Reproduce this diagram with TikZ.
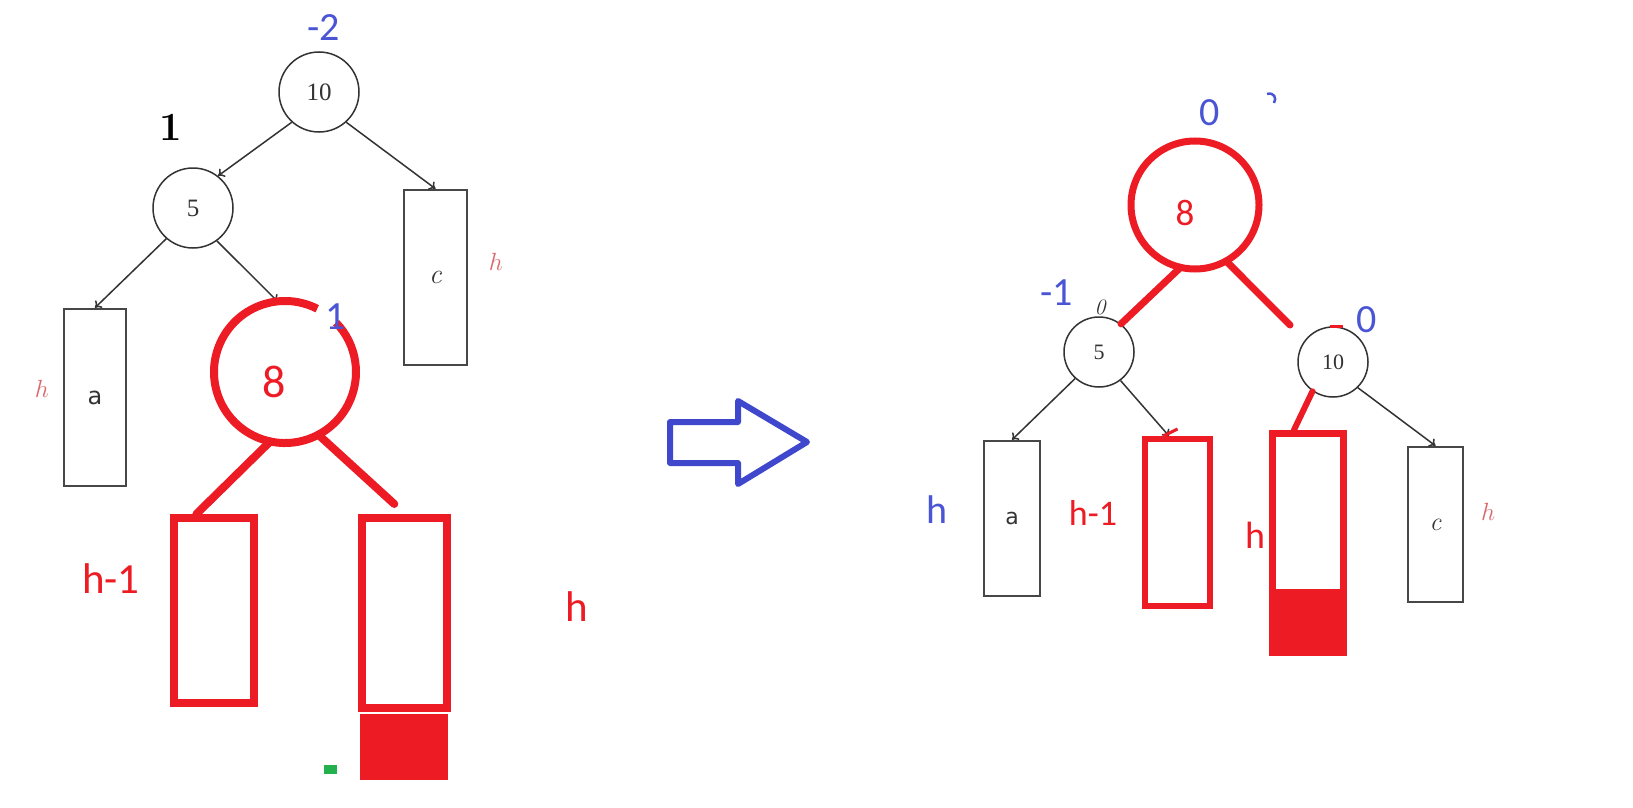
\documentclass[tikz,border=0pt]{standalone}
\usepackage{fontspec}
\newfontfamily\carlitofont{Carlito}
\newfontfamily\timesfont{Liberation Serif}
\newfontfamily\dvsansfont{DejaVu Sans}
\usetikzlibrary{arrows.meta,calc}
\definecolor{pred}{HTML}{ED1C24}
\definecolor{pblue}{HTML}{3F48CC}
\definecolor{tblue}{HTML}{4A55D6}
\definecolor{pgreen}{HTML}{22B14C}
\definecolor{hpink}{HTML}{D9686A}
\definecolor{dk}{HTML}{333333}
\begin{document}
\begin{tikzpicture}[x=1pt,y=-1pt,
 circ/.style={circle, draw=dk, line width=1.5pt, inner sep=0pt, minimum size=80pt, text=dk, font=\timesfont\fontsize{25}{25}\selectfont},
 circsm/.style={circ, minimum size=70pt, font=\timesfont\fontsize{22}{22}\selectfont},
 box/.style={rectangle, draw=dk!90, line width=2.5pt, inner sep=0pt, text=dk},
 redbox/.style={rectangle, draw=pred, inner sep=0pt},
 redfill/.style={rectangle, fill=pred, inner sep=0pt},
 edge/.style={draw=dk, line width=1.5pt, -{To[length=6pt,width=10pt]}},
 redline/.style={draw=pred, line width=8pt, line cap=round},
 bal/.style={text=tblue, inner sep=0pt, font=\carlitofont\fontsize{40}{40}\selectfont},
 redlbl/.style={text=pred, inner sep=0pt, font=\carlitofont\fontsize{43}{43}\selectfont},
 hlbl/.style={text=hpink, inner sep=0pt, font=\fontsize{27}{27}\selectfont},
]
\useasboundingbox (0,0) rectangle (1633,808);
\fill[white] (0,0) rectangle (1633,808);

% ---------- left tree ----------
\node[circ] (L10) at (319,92) {10};
\node[circ] (L5) at (193,208) {5};
\node[box, minimum width=62pt, minimum height=177pt, font=\dvsansfont\fontsize{24}{24}\selectfont] (La) at (95,397.5) {a};
\node[box, minimum width=63pt, minimum height=175pt, font=\itshape\fontsize{28}{28}\selectfont] (Lc) at (435.5,277.5) {c};
\node[circle, minimum size=142pt, inner sep=0pt, outer sep=0pt] (L8) at (285,372) {};

\draw[edge] (L10.228) -- (L5.52);
\draw[edge] (L10.312) -- (Lc.north);
\draw[edge] (L5.229) -- (La.north);
\draw[edge] (L5.306) -- (L8.96);

\draw[pred, line width=8pt] (L8.63) arc[start angle=63, end angle=404, radius=71pt];
\node[text=pred, inner sep=0pt, font=\carlitofont\fontsize{46}{46}\selectfont] (L8t) at (274,382) {8};

\node[redbox, line width=8pt, minimum width=80pt, minimum height=185pt] (Lrl) at (214,610.5) {};
\node[redbox, line width=8pt, minimum width=85pt, minimum height=190pt] (Lrr) at (404.5,613) {};
\node[redfill, minimum width=88pt, minimum height=66pt] (Lfill) at (404,747) {};
\draw[redline] (L8.258) -- ($(Lrl.north west)!0.3!(Lrl.north east)$);
\draw[redline] (L8.298) -- ($(Lrr.north west)!0.39!(Lrr.north east)+(0,-10)$);
\fill[pgreen] (324,765) rectangle (337,774);

\node[bal] (Lb10) at (324,28) {-2};
\node[text=black, inner sep=0pt, font=\bfseries\fontsize{40}{40}\selectfont] (Lb5) at (171,127) {1};
\node[bal] (Lb8) at (336,317) {1};
\node[hlbl] (Lha) at (42,389) {$h$};
\node[hlbl] (Lhc) at (496,262) {$h$};
\node[redlbl] (Lh1) at (111,579) {h-1};
\node[redlbl] (Lh) at (577,607) {h};

% ---------- transform arrow ----------
\draw[pblue, line width=6pt, line join=round] (670,422) -- (738,422) -- (738,401) -- (807,442) -- (738,484) -- (738,463) -- (670,463) -- cycle;

% ---------- right tree ----------
\node[circle, draw=pred, line width=7pt, minimum size=128pt, inner sep=0pt, outer sep=0pt] (R8) at (1195,205) {};
\node[text=pred, inner sep=0pt, font=\carlitofont\fontsize{37}{37}\selectfont] (R8t) at (1185,213) {8};
\node[circsm] (R5) at (1099,352) {5};
\node[circsm] (R10) at (1333,362) {10};
\node[box, minimum width=56pt, minimum height=155pt, font=\dvsansfont\fontsize{22}{22}\selectfont] (Ra) at (1012,518.5) {a};
\node[redbox, line width=6pt, minimum width=65pt, minimum height=167pt] (Rh1) at (1177.5,522.5) {};
\node[redfill, minimum width=78pt, minimum height=66pt] (Rfill) at (1308,623) {};
\node[redbox, line width=7pt, minimum width=71pt, minimum height=159pt] (Rh) at (1308,513) {};
\node[box, minimum width=55pt, minimum height=155pt, font=\itshape\fontsize{26}{26}\selectfont] (Rc) at (1435.5,524.5) {c};

\draw[edge] (R5.228) -- (Ra.north);
\draw[edge] (R5.307) -- ($(Rh1.north west)!0.38!(Rh1.north east)$);
\draw[edge] (R10.314) -- (Rc.north);

\coordinate (Rfree) at ($(R10)+(-43,-37)$);
\draw[redline, line width=7pt] (R8.257) -- (R5.52);
\draw[redline, line width=7pt] (R8.299) -- (Rfree);
\draw[redline, line width=6pt] (R10.235) -- ($(Rh.north west)!0.32!(Rh.north east)$);
\draw[pred, line width=3pt] ($(R10.north)+(-3,0)$) -- ($(R10.north)+(10,0)$);
\draw[pred, line width=3pt] ($(Rh1.north)+(-14,0)$) -- ($(Rh1.north)+(0,-7)$);

\node[bal] (Rb8) at (1210,113) {0};
\draw[tblue, line width=2.5pt] (1267,94) .. controls (1274,92) and (1277,98) .. (1274,103);
\node[bal] (Rb5) at (1057,293) {-1};
\node[text=dk, inner sep=0pt, font=\itshape\fontsize{22}{22}\selectfont] (Rz) at (1100,307) {0};
\node[bal] (Rb10) at (1367,320) {0};
\node[bal] (Rha) at (937,510) {h};
\node[redlbl, font=\carlitofont\fontsize{36}{36}\selectfont] (Rh1l) at (1093,513) {h-1};
\node[redlbl, font=\carlitofont\fontsize{38}{38}\selectfont] (Rhl) at (1255,535) {h};
\node[hlbl] (Rhc) at (1488,512) {$h$};
\end{tikzpicture}
\end{document}
